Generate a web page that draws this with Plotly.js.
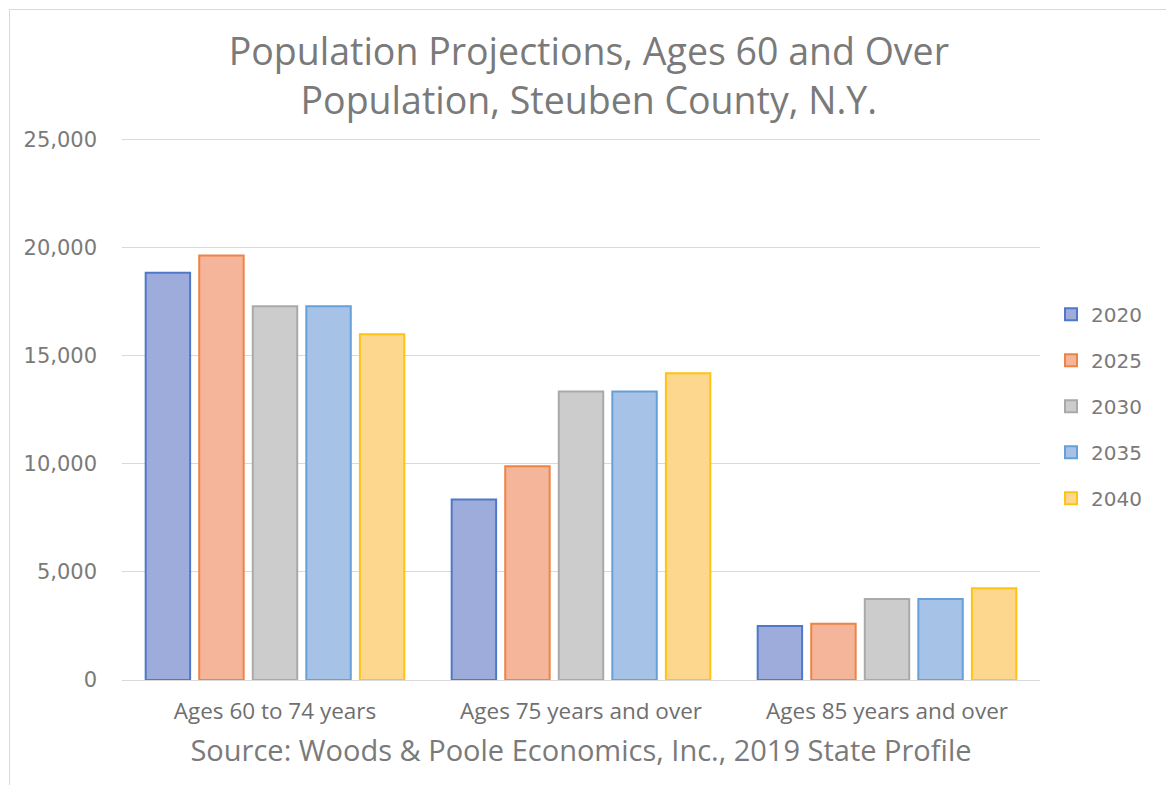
<!DOCTYPE html>
<html>
<head>
<meta charset="utf-8">
<script src="https://cdn.plot.ly/plotly-3.0.1.min.js"></script>
<style>
  html, body { margin: 0; padding: 0; background: #ffffff; overflow: hidden; }
  #frame { position: absolute; left: 9px; top: 9px; width: 1300px; height: 900px;
           border-left: 1px solid #d9d9d9; border-top: 1px solid #d9d9d9; pointer-events: none; }
  #chart { position: absolute; left: 0; top: 0; width: 1166px; height: 785px; }
</style>
</head>
<body>
<div id="chart"></div>
<div id="frame"></div>
<script>
// ---- data ----
const categories = ["Ages 60 to 74 years", "Ages 75 years and over", "Ages 85 years and over"];
const years = ["2020", "2025", "2030", "2035", "2040"];
const v2020 = [18850, 8350, 2500];
const v2025 = [19650, 9900, 2600];
const v2030 = [17300, 13350, 3750];
const v2035 = [17300, 13350, 3750];
const v2040 = [16000, 14200, 4250];
const seriesValues = [v2020, v2025, v2030, v2035, v2040];
const yTickVals = [0, 5000, 10000, 15000, 20000, 25000];
const yTickText = ["0", "5,000", "10,000", "15,000", "20,000", "25,000"];

// ---- styles ----
const fills = ["#9dacdb", "#f5b59b", "#cccccc", "#a6c3e7", "#fdd78d"];
const lines = ["#4f78c8", "#ee8444", "#a9a9a9", "#66a0d8", "#ffc312"];

const traces = years.map((yr, i) => ({
  type: "bar",
  name: yr,
  legendgroup: yr,
  x: categories,
  y: seriesValues[i],
  marker: { color: fills[i], line: { color: lines[i], width: 2 } },
  hoverinfo: "x+y+name"
}));

const grey = "#7a7a7a";
const layout = {
  width: 1166, height: 785,
  paper_bgcolor: "rgba(0,0,0,0)",
  plot_bgcolor: "#ffffff",
  margin: { l: 122, r: 126, t: 138, b: 105 },
  barmode: "group",
  bargap: 0.125,
  bargroupgap: 0.17,
  title: {
    text: "Population Projections, Ages 60 and Over<br>Population, Steuben County, N.Y.",
    font: { family: "Open Sans, sans-serif", size: 37.5, color: grey },
    x: 0.505, xanchor: "center", y: 0.917, yanchor: "middle"
  },
  xaxis: {
    type: "category",
    tickfont: { family: "Open Sans, sans-serif", size: 22.5, color: "#6f6f6f" },
    ticks: "", showline: false, showgrid: false,
    ticklabelstandoff: 15,
    title: { text: "Source: Woods & Poole Economics, Inc., 2019 State Profile",
             font: { family: "Open Sans, sans-serif", size: 29, color: grey },
             standoff: 16 }
  },
  yaxis: {
    range: [0, 25090],
    tickvals: yTickVals, ticktext: yTickText,
    tickfont: { family: "DejaVu Sans, Verdana, sans-serif", size: 21, color: "#7a7a7a" },
    gridcolor: "#d9d9d9", gridwidth: 1,
    zeroline: true, zerolinecolor: "#d9d9d9", zerolinewidth: 1,
    showline: false, ticks: "", ticklabelstandoff: 24
  },
  legend: {
    x: 1.012, xanchor: "left", y: 0.505, yanchor: "middle",
    font: { family: "DejaVu Sans, Verdana, sans-serif", size: 20, color: "#7a7a7a" },
    itemwidth: 30, tracegroupgap: 17,
    bgcolor: "rgba(0,0,0,0)"
  },
  showlegend: true
};

Plotly.newPlot("chart", traces, layout, { displayModeBar: false, staticPlot: true });
</script>
</body>
</html>
